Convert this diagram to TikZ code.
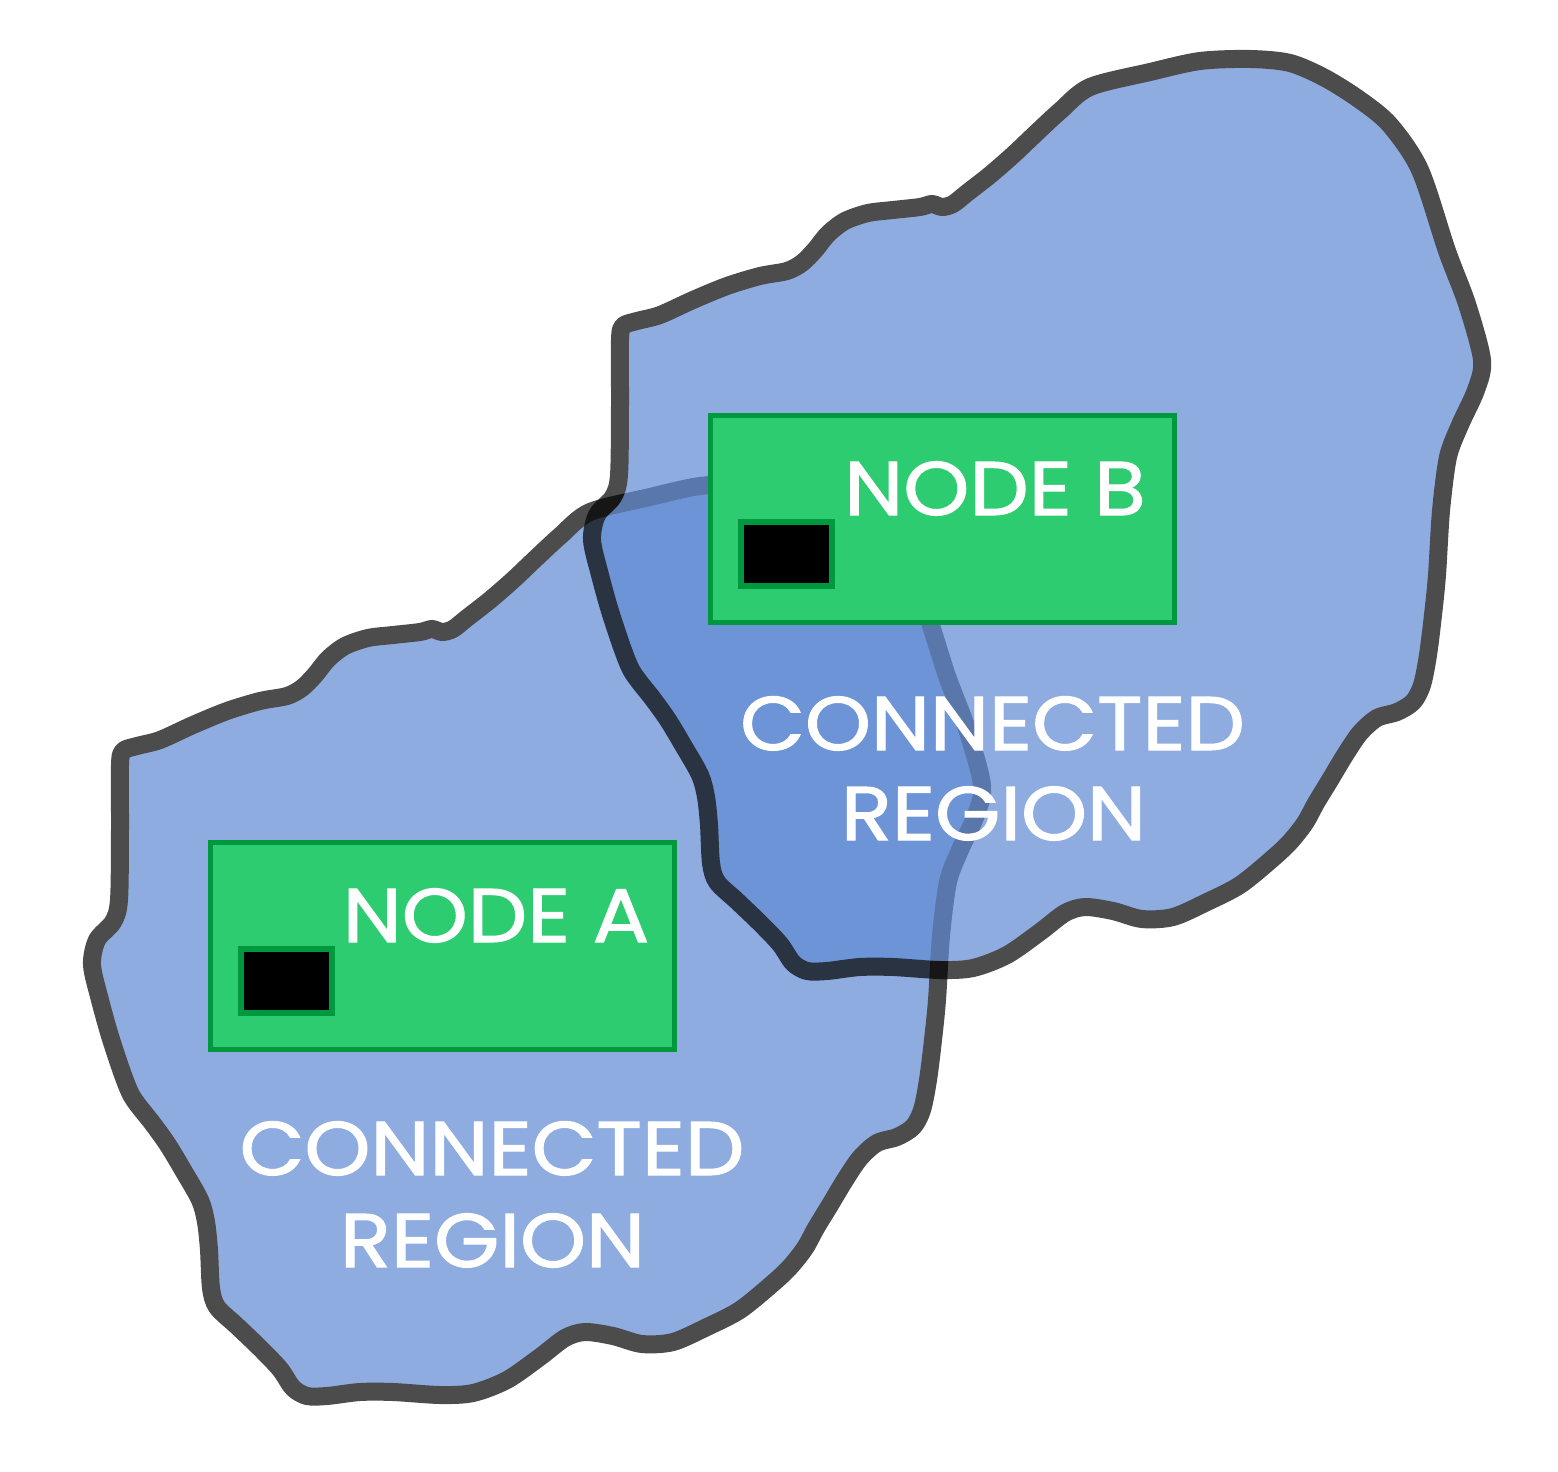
\documentclass[tikz,border=0pt]{standalone}
\usepackage{fontspec}
\setmainfont{Poppins}
\newfontfamily\lblfont{Poppins}[FakeStretch=1.105, FakeBold=1.5]
\definecolor{blobfill}{RGB}{95,138,211}
\definecolor{boxfill}{RGB}{46,204,113}
\definecolor{boxline}{RGB}{0,152,62}
\tikzset{
  blob/.style={fill=blobfill, draw=black, line width=18pt, line join=round},
  greenbox/.style={rectangle, fill=boxfill, draw=boxline, line width=5.5pt, inner sep=0pt},
  chip/.style={rectangle, fill=black, draw=boxline, line width=6pt, inner sep=0pt, minimum width=91pt, minimum height=64pt},
  lbl/.style={text=white, font=\lblfont\fontsize{76}{80}\selectfont, inner sep=0pt, anchor=base},
}
\def\blobpath{plot[smooth cycle, tension=0.5] coordinates {
(120,765) (123,751) (137,746) (160,740) (193,725) (227,711) (260,701) (287,696)
(302,688) (315,675) (328,659) (345,646) (368,638) (393,635) (420,632) (432,629)
(442,632) (453,629) (467,618) (490,600) (513,580) (532,562) (560,536) (590,512)
(650,497) (700,486) (750,484) (790,488) (825,503) (860,525) (890,550) (920,595)
(947,676) (967,729) (982,785) (976,815) (960,850) (948,882) (941,936) (937,1000)
(933,1040) (928,1080) (922,1110) (913,1127) (897,1137) (877,1143) (860,1158)
(845,1180) (830,1205) (816,1228) (805,1248) (790,1267) (772,1284) (740,1310)
(707,1327) (673,1342) (642,1344) (613,1336) (585,1332) (565,1338) (540,1357)
(507,1380) (473,1393) (440,1395) (393,1392) (360,1392) (327,1396) (307,1396)
(293,1388) (280,1369) (260,1348) (237,1326) (217,1307) (211,1288) (209,1250)
(206,1222) (200,1200) (183,1170) (168,1145) (153,1124) (133,1098) (123,1075)
(110,1036) (100,1000) (92,965) (97,940) (113,922) (119,900) (120,830)
}}
\begin{document}
\begin{tikzpicture}[x=1pt,y=-1pt]
\useasboundingbox[fill=white] (0,0) rectangle (1558,1472);
% region A
\begin{scope}[transparency group, opacity=0.7]
  \path[blob] \blobpath;
\end{scope}
\node[greenbox, minimum width=464pt, minimum height=207pt] (boxA) at (442.5,946) {};
\node[chip] (chipA) at (286.5,981) {};
\node[lbl] (nameA) at (496,942) {NODE A};
\node[lbl] (regA1) at (492,1175) {CONNECTED};
\node[lbl] (regA2) at (492.5,1267) {REGION};
% region B
\begin{scope}[shift={(500,-425)}, transparency group, opacity=0.7]
  \path[blob] \blobpath;
\end{scope}
\node[greenbox, minimum width=464pt, minimum height=207pt] (boxB) at (942.5,519) {};
\node[chip] (chipB) at (786.5,554) {};
\node[lbl] (nameB) at (995,515) {NODE B};
\node[lbl] (regB1) at (992.5,750) {CONNECTED};
\node[lbl] (regB2) at (993.5,840) {REGION};
\end{tikzpicture}
\end{document}
